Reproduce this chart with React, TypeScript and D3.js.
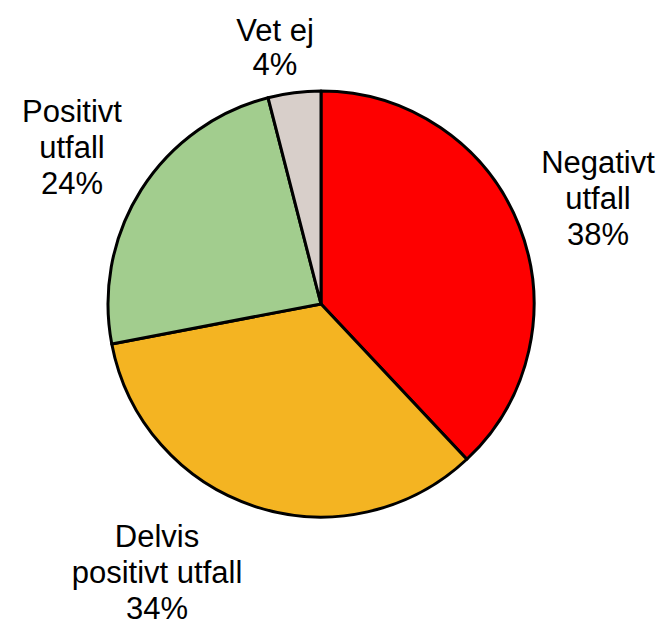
import React, { useRef, useEffect } from "react";
import * as d3 from "d3";

// categories in clockwise order starting at 12 o'clock
const categories = ["Negativt utfall", "Delvis positivt utfall", "Positivt utfall", "Vet ej"];
const values = [38, 34, 24, 4];
const labelLines = [
  ["Negativt", "utfall"],
  ["Delvis", "positivt utfall"],
  ["Positivt", "utfall"],
  ["Vet ej"],
];
const colors = ["#FE0000", "#F4B422", "#A2CD8E", "#D8CFCA"];

// label anchors (center x, first baseline y)
const labelPos: [number, number][] = [
  [598, 173],
  [157, 547],
  [72, 122],
  [275, 41],
];

interface Slice {
  name: string;
  value: number;
  idx: number;
}

const PieChart: React.FC<{ width?: number; height?: number }> = ({
  width = 664,
  height = 623,
}) => {
  const ref = useRef<SVGSVGElement | null>(null);

  useEffect(() => {
    const cx = 321;
    const cy = 304;
    const radius = 213;
    const lineH = 36;

    d3.select(ref.current).selectAll("*").remove();
    const svg = d3
      .select(ref.current)
      .attr("width", width)
      .attr("height", height);

    const data: Slice[] = categories.map((name, i) => ({ name, value: values[i], idx: i }));

    const pie = d3
      .pie<Slice>()
      .sort(null)
      .value((d) => d.value);
    const arc = d3.arc<d3.PieArcDatum<Slice>>().innerRadius(0).outerRadius(radius);

    const g = svg.append("g").attr("transform", `translate(${cx},${cy})`);
    g.selectAll("path")
      .data(pie(data))
      .enter()
      .append("path")
      .attr("d", arc)
      .attr("fill", (d) => colors[d.data.idx])
      .attr("stroke", "#000")
      .attr("stroke-width", 3)
      .attr("stroke-linejoin", "round");

    // labels
    data.forEach((d, i) => {
      const [lx, ly] = labelPos[i];
      const lines = [...labelLines[i], `${d.value}%`];
      const t = svg
        .append("text")
        .attr("text-anchor", "middle")
        .attr("fill", "#000")
        .style("font-family", "'Liberation Sans', Arial, Helvetica, sans-serif")
        .style("font-size", "31px");
      lines.forEach((line, j) => {
        t.append("tspan")
          .attr("x", lx)
          .attr("y", ly + j * (i === 3 ? 34 : lineH))
          .text(line);
      });
    });
  }, [width, height]);

  return (
    <svg
      ref={ref}
      style={{ position: "absolute", left: 0, top: 0, background: "#fff" }}
    />
  );
};

export default function App() {
  return <PieChart />;
}
